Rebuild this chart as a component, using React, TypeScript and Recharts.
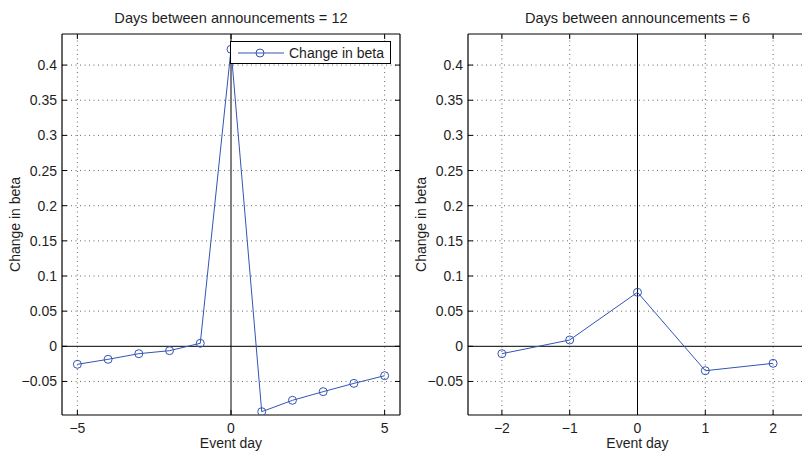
import React from 'react';
import { LineChart, Line, XAxis, YAxis, ReferenceLine, Legend } from 'recharts';

// ---- data ----
const leftDays = [-5, -4, -3, -2, -1, 0, 1, 2, 3, 4, 5];
const leftBeta = [-0.0256, -0.0185, -0.0105, -0.0062, 0.0043, 0.4225, -0.093, -0.0768, -0.0645, -0.0527, -0.0418];
const rightDays = [-2, -1, 0, 1, 2];
const rightBeta = [-0.0105, 0.009, 0.0768, -0.0347, -0.0242];

const yTicks = [-0.05, 0, 0.05, 0.1, 0.15, 0.2, 0.25, 0.3, 0.35, 0.4];
const leftXTicks = [-5, 0, 5];
const rightXTicks = [-2, -1, 0, 1, 2];
const yDomain: [number, number] = [-0.0977, 0.4442];
const leftXDomain: [number, number] = [-5.5, 5.5];
const rightXDomain: [number, number] = [-2.5, 2.5];

const leftTitle = 'Days between announcements = 12';
const rightTitle = 'Days between announcements = 6';
const seriesName = 'Change in beta';
const xLabel = 'Event day';
const yLabel = 'Change in beta';

// ---- style ----
const FONT = '"Liberation Sans", Arial, Helvetica, sans-serif';
const BLUE = '#3454b4';
const TEXT = '#1e1e1e';
const GRID = '#666';
const FS = 14;
const TITLE_FS = 14.6;

const leftData = leftDays.map((d, i) => ({ day: d, beta: leftBeta[i] }));
const rightData = rightDays.map((d, i) => ({ day: d, beta: rightBeta[i] }));

const fmt = (v: number) => (v === 0 ? '0' : (v < 0 ? '\u2212' : '') + String(Math.abs(v)));

const LeftTick = (props: any) => {
  const { x, y, payload } = props;
  return (
    <g>
      <line x1={x} x2={x + 5} y1={y} y2={y} stroke="#000" strokeWidth={1} />
      <text x={x - 5} y={y + 5} textAnchor="end" fontSize={FS} fontFamily={FONT} fill={TEXT}>
        {fmt(payload.value)}
      </text>
    </g>
  );
};
const RightTick = (props: any) => {
  const { x, y } = props;
  return <line x1={x} x2={x - 5} y1={y} y2={y} stroke="#000" strokeWidth={1} />;
};
const BottomTick = (props: any) => {
  const { x, y, payload } = props;
  return (
    <g>
      <line x1={x} x2={x} y1={y} y2={y - 5} stroke="#000" strokeWidth={1} />
      <text x={x} y={y + 18} textAnchor="middle" fontSize={FS} fontFamily={FONT} fill={TEXT}>
        {fmt(payload.value)}
      </text>
    </g>
  );
};
const TopTick = (props: any) => {
  const { x, y } = props;
  return <line x1={x} x2={x} y1={y} y2={y + 5} stroke="#000" strokeWidth={1} />;
};

const titleContent = (text: string) => (props: any) => {
  const vb = props.viewBox || {};
  return (
    <text x={vb.x + vb.width / 2} y={vb.y + vb.height - 11} textAnchor="middle" fontSize={TITLE_FS} fontFamily={FONT} fill={TEXT}>
      {text}
    </text>
  );
};
const xLabelContent = (props: any) => {
  const vb = props.viewBox || {};
  return (
    <text x={vb.x + vb.width / 2} y={vb.y + 33} textAnchor="middle" fontSize={FS} fontFamily={FONT} fill={TEXT}>
      {xLabel}
    </text>
  );
};
const yLabelContent = (props: any) => {
  const vb = props.viewBox || {};
  const x = vb.x + vb.width - 42;
  const y = vb.y + vb.height / 2;
  return (
    <text x={x} y={y} transform={`rotate(-90 ${x} ${y})`} textAnchor="middle" fontSize={FS} fontFamily={FONT} fill={TEXT}>
      {yLabel}
    </text>
  );
};

const LegendBox = () => (
  <div
    style={{
      display: 'inline-flex',
      alignItems: 'center',
      border: '1px solid #000',
      background: '#fff',
      height: 21,
      padding: '0 6px 0 7px',
      fontFamily: FONT,
      fontSize: FS,
      color: TEXT,
      whiteSpace: 'nowrap',
    }}
  >
    <svg width={46} height={12} style={{ display: 'block' }}>
      <line x1={0} x2={46} y1={6} y2={6} stroke={BLUE} strokeWidth={1} />
      <circle cx={22} cy={6} r={4} fill="none" stroke={BLUE} strokeWidth={1} />
    </svg>
    <span style={{ marginLeft: 5 }}>{seriesName}</span>
  </div>
);

type PanelProps = {
  data: { day: number; beta: number }[];
  xDomain: [number, number];
  xTicks: number[];
  title: string;
  width: number;
  yAxisWidth: number;
  rightMargin: number;
  legend?: boolean;
};

const Panel = ({ data, xDomain, xTicks, title, width, yAxisWidth, rightMargin, legend }: PanelProps) => (
  <LineChart width={width} height={453} data={data} margin={{ top: 33, right: rightMargin, bottom: 0, left: 0 }}>
    {xTicks
      .filter((t) => t !== 0)
      .map((t) => (
        <ReferenceLine key={'gx' + t} xAxisId="bottom" yAxisId="left" x={t} stroke={GRID} strokeWidth={1} strokeDasharray="1 3.5" />
      ))}
    {yTicks
      .filter((t) => t !== 0)
      .map((t) => (
        <ReferenceLine key={'gy' + t} xAxisId="bottom" yAxisId="left" y={t} stroke={GRID} strokeWidth={1} strokeDasharray="1 3.5" />
      ))}
    <XAxis
      xAxisId="bottom"
      dataKey="day"
      type="number"
      domain={xDomain}
      ticks={xTicks}
      interval={0}
      height={38}
      tickLine={false}
      tickSize={0}
      tickMargin={0}
      tick={<BottomTick />}
      axisLine={{ stroke: '#000', strokeWidth: 1.2 }}
      allowDataOverflow
      label={{ content: xLabelContent }}
    />
    <XAxis
      xAxisId="top"
      orientation="top"
      dataKey="day"
      type="number"
      domain={xDomain}
      ticks={xTicks}
      interval={0}
      height={1}
      tickLine={false}
      tickSize={0}
      tickMargin={0}
      tick={<TopTick />}
      axisLine={{ stroke: '#000', strokeWidth: 1.2 }}
      allowDataOverflow
      label={{ content: titleContent(title) }}
    />
    <YAxis
      yAxisId="left"
      type="number"
      domain={yDomain}
      ticks={yTicks}
      interval={0}
      width={yAxisWidth}
      tickLine={false}
      tickSize={0}
      tickMargin={0}
      tick={<LeftTick />}
      axisLine={{ stroke: '#000', strokeWidth: 1.2 }}
      allowDataOverflow
      label={{ content: yLabelContent }}
    />
    <YAxis
      yAxisId="right"
      orientation="right"
      type="number"
      domain={yDomain}
      ticks={yTicks}
      interval={0}
      width={1}
      tickLine={false}
      tickSize={0}
      tickMargin={0}
      tick={<RightTick />}
      axisLine={{ stroke: '#000', strokeWidth: 1.2 }}
      allowDataOverflow
    />
    <ReferenceLine xAxisId="bottom" yAxisId="left" x={0} stroke="#000" strokeWidth={1} />
    <ReferenceLine xAxisId="bottom" yAxisId="left" y={0} stroke="#000" strokeWidth={1} />
    <Line
      xAxisId="bottom"
      yAxisId="left"
      type="linear"
      dataKey="beta"
      name={seriesName}
      stroke={BLUE}
      strokeWidth={1}
      dot={{ r: 4, fill: 'none', stroke: BLUE, strokeWidth: 1 }}
      activeDot={false}
      isAnimationActive={false}
    />
    {legend ? (
      <Legend
        layout="horizontal"
        verticalAlign="middle"
        align="center"
        content={<LegendBox />}
        wrapperStyle={{ left: 230, top: 41, right: 'auto', bottom: 'auto', width: 'auto', height: 'auto' }}
      />
    ) : null}
  </LineChart>
);

export default function App() {
  return (
    <div style={{ position: 'absolute', left: 0, top: 0, width: 802, height: 453, overflow: 'hidden', background: '#fff' }}>
      <div style={{ position: 'absolute', left: 0, top: 0 }}>
        <Panel
          data={leftData}
          xDomain={leftXDomain}
          xTicks={leftXTicks}
          title={leftTitle}
          width={410}
          yAxisWidth={62}
          rightMargin={9}
          legend
        />
      </div>
      <div style={{ position: 'absolute', left: 400, top: 0 }}>
        <Panel
          data={rightData}
          xDomain={rightXDomain}
          xTicks={rightXTicks}
          title={rightTitle}
          width={420}
          yAxisWidth={68}
          rightMargin={12}
        />
      </div>
    </div>
  );
}
